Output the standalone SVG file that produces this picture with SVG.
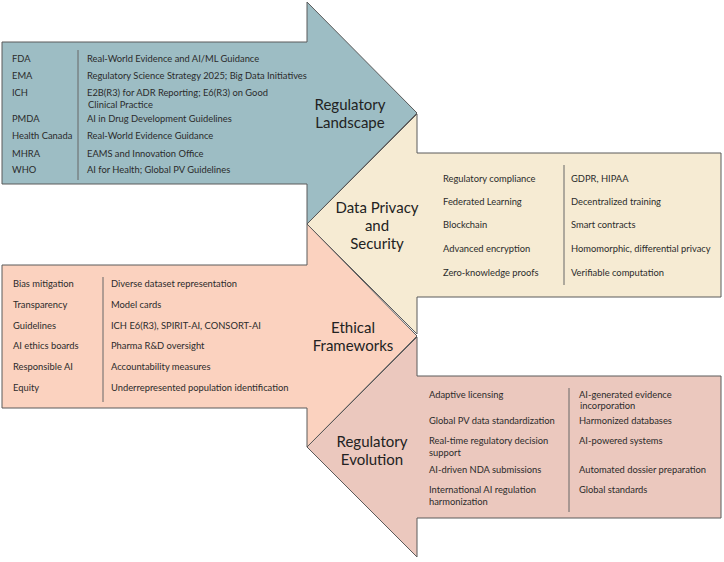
<svg xmlns="http://www.w3.org/2000/svg" width="724" height="562" viewBox="0 0 724 562">
<style>
.shape{stroke:#5a5a5a;stroke-width:1;stroke-linejoin:miter}
.t{font-family:Lato,"Open Sans",sans-serif;font-size:9.35px;fill:#2b2b2b}
.h{font-family:Lato,"Open Sans",sans-serif;font-size:15px;fill:#222;text-anchor:middle}
.div{stroke:#666;stroke-width:1}
</style>
<rect width="724" height="562" fill="#fff"/>
<g id="regulatory-landscape">
<path class="shape" fill="#9dbdc4" d="M2,42 H307 V2 L417,113 L307,224 V184 H2 Z"/>
<line class="div" x1="78" y1="50" x2="78" y2="180"/>
<text class="t" x="12" y="62">FDA</text>
<text class="t" x="12" y="79">EMA</text>
<text class="t" x="12" y="96">ICH</text>
<text class="t" x="12" y="122">PMDA</text>
<text class="t" x="12" y="139">Health Canada</text>
<text class="t" x="12" y="157">MHRA</text>
<text class="t" x="12" y="173">WHO</text>
<text class="t" x="87" y="62">Real-World Evidence and AI/ML Guidance</text>
<text class="t" x="87" y="79">Regulatory Science Strategy 2025; Big Data Initiatives</text>
<text class="t" x="87" y="96">E2B(R3) for ADR Reporting; E6(R3) on Good</text>
<text class="t" x="88" y="108">Clinical Practice</text>
<text class="t" x="87" y="122">AI in Drug Development Guidelines</text>
<text class="t" x="87" y="139">Real-World Evidence Guidance</text>
<text class="t" x="87" y="157">EAMS and Innovation Office</text>
<text class="t" x="87" y="173">AI for Health; Global PV Guidelines</text>
<text class="h" x="350" y="110">Regulatory</text>
<text class="h" x="350" y="128">Landscape</text>
</g>
<g id="data-privacy">
<path class="shape" fill="#f6ebd3" d="M721,153 H417 V114 L307,224 L417,334 V297 H721 Z"/>
<line class="div" x1="564" y1="165" x2="564" y2="285"/>
<text class="t" x="443" y="182">Regulatory compliance</text>
<text class="t" x="443" y="205">Federated Learning</text>
<text class="t" x="443" y="228">Blockchain</text>
<text class="t" x="443" y="252">Advanced encryption</text>
<text class="t" x="443" y="276">Zero-knowledge proofs</text>
<text class="t" x="571" y="182">GDPR, HIPAA</text>
<text class="t" x="571" y="205">Decentralized training</text>
<text class="t" x="571" y="228">Smart contracts</text>
<text class="t" x="571" y="252">Homomorphic, differential privacy</text>
<text class="t" x="571" y="276">Verifiable computation</text>
<text class="h" x="377" y="213">Data Privacy</text>
<text class="h" x="377" y="231">and</text>
<text class="h" x="377" y="249">Security</text>
</g>
<g id="ethical-frameworks">
<path class="shape" fill="#fbd2bf" d="M2,265 H307 V224 L417,336 L307,447 V408 H2 Z"/>
<line class="div" x1="103" y1="277" x2="103" y2="402"/>
<text class="t" x="13" y="287">Bias mitigation</text>
<text class="t" x="13" y="308">Transparency</text>
<text class="t" x="13" y="329">Guidelines</text>
<text class="t" x="13" y="349">AI ethics boards</text>
<text class="t" x="13" y="370">Responsible AI</text>
<text class="t" x="13" y="391">Equity</text>
<text class="t" x="111" y="287">Diverse dataset representation</text>
<text class="t" x="111" y="308">Model cards</text>
<text class="t" x="111" y="329">ICH E6(R3), SPIRIT-AI, CONSORT-AI</text>
<text class="t" x="111" y="349">Pharma R&amp;D oversight</text>
<text class="t" x="111" y="370">Accountability measures</text>
<text class="t" x="111" y="391">Underrepresented population identification</text>
<text class="h" x="353" y="333">Ethical</text>
<text class="h" x="353" y="351">Frameworks</text>
</g>
<g id="regulatory-evolution">
<path class="shape" fill="#ebc8be" d="M721,376 H417 V337 L307,447 L417,557 V518 H721 Z"/>
<line class="div" x1="569" y1="388" x2="569" y2="512"/>
<text class="t" x="429" y="398">Adaptive licensing</text>
<text class="t" x="429" y="424">Global PV data standardization</text>
<text class="t" x="429" y="444">Real-time regulatory decision</text>
<text class="t" x="429" y="456">support</text>
<text class="t" x="429" y="473">AI-driven NDA submissions</text>
<text class="t" x="429" y="493">International AI regulation</text>
<text class="t" x="429" y="505">harmonization</text>
<text class="t" x="579" y="398">AI-generated evidence</text>
<text class="t" x="580" y="409">incorporation</text>
<text class="t" x="579" y="424">Harmonized databases</text>
<text class="t" x="579" y="444">AI-powered systems</text>
<text class="t" x="579" y="473">Automated dossier preparation</text>
<text class="t" x="579" y="493">Global standards</text>
<text class="h" x="372" y="447">Regulatory</text>
<text class="h" x="372" y="465">Evolution</text>
</g>
<g id="connectors"/>
</svg>
